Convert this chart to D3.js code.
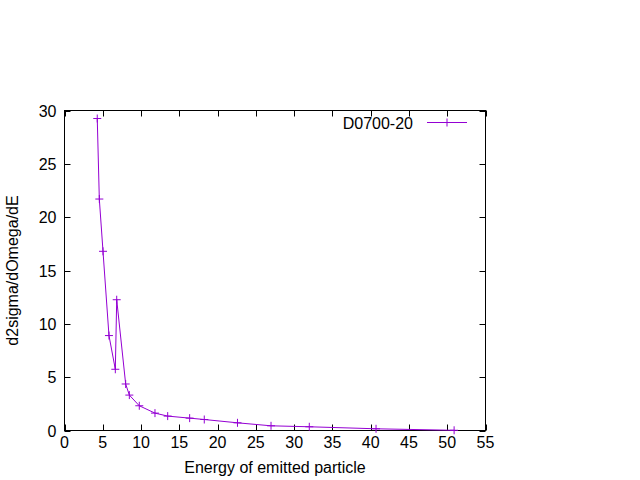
<!DOCTYPE html>
<html><head><meta charset="utf-8">
<script src="https://cdn.jsdelivr.net/npm/d3@7"></script>
<style>body{margin:0;background:#fff}text{font-family:"Liberation Sans",Arial,sans-serif;font-size:16px;fill:#000}</style>
</head><body>
<svg id="c" width="640" height="480"></svg>
<script>
const seriesName = "D0700-20";
const energy = [4.28, 4.55, 5.03, 5.81, 6.64, 6.82, 7.99, 8.47, 9.77, 11.82, 13.48, 16.35, 18.26, 22.6, 26.98, 31.98, 40.7, 50.9];
const sigma  = [29.25, 21.7, 16.8, 8.9, 5.74, 12.26, 4.36, 3.32, 2.32, 1.63, 1.35, 1.16, 1.03, 0.72, 0.44, 0.35, 0.16, 0.02];
const xTicks = [0,5,10,15,20,25,30,35,40,45,50,55];
const yTicks = [0,5,10,15,20,25,30];
const xLabel = "Energy of emitted particle";
const yLabel = "d2sigma/dOmega/dE";

const L=64.5,R=485.5,T=110.5,B=430.5;
const color="#9400d3";
const svg=d3.select("#c");
const x=d3.scaleLinear().domain([0,55]).range([L,R]);
const y=d3.scaleLinear().domain([0,30]).range([B,T]);
const tl=6;

const g=svg.append("g").attr("stroke","#000").attr("stroke-width",1);
xTicks.forEach(t=>{
  const px=Math.round(x(t))+0.5;
  g.append("line").attr("x1",px).attr("x2",px).attr("y1",B).attr("y2",B-tl);
  g.append("line").attr("x1",px).attr("x2",px).attr("y1",T).attr("y2",T+tl);
});
yTicks.forEach(t=>{
  const py=Math.round(y(t))+0.5;
  g.append("line").attr("x1",L).attr("x2",L+tl).attr("y1",py).attr("y2",py);
  g.append("line").attr("x1",R).attr("x2",R-tl).attr("y1",py).attr("y2",py);
});
svg.append("rect").attr("x",L).attr("y",T).attr("width",R-L).attr("height",B-T).attr("fill","none").attr("stroke","#000");

xTicks.forEach(t=>svg.append("text").attr("x",x(t)).attr("y",B+17).attr("text-anchor","middle").text(t));
yTicks.forEach(t=>svg.append("text").attr("x",L-8).attr("y",y(t)+6).attr("text-anchor","end").text(t));

svg.append("text").attr("x",(L+R)/2).attr("y",473).attr("text-anchor","middle").text(xLabel);
svg.append("text").attr("transform",`translate(18,${(T+B)/2}) rotate(-90)`).attr("text-anchor","middle").text(yLabel);

const data=energy.map((e,i)=>[e,sigma[i]]);
svg.append("path").datum(data).attr("fill","none").attr("stroke",color).attr("stroke-width",1)
  .attr("d",d3.line().x(d=>x(d[0])).y(d=>y(d[1])));
const cs=4;
const pts=svg.append("g").attr("stroke",color).attr("stroke-width",1);
data.forEach(d=>{
  const px=x(d[0]),py=y(d[1]);
  pts.append("line").attr("x1",px-cs).attr("x2",px+cs).attr("y1",py).attr("y2",py);
  pts.append("line").attr("x1",px).attr("x2",px).attr("y1",py-cs).attr("y2",py+cs);
});

const ly=122.5;
svg.append("text").attr("x",413).attr("y",ly+6).attr("text-anchor","end").text(seriesName);
svg.append("line").attr("x1",427).attr("x2",467).attr("y1",ly).attr("y2",ly).attr("stroke",color);
svg.append("line").attr("x1",447-cs).attr("x2",447+cs).attr("y1",ly).attr("y2",ly).attr("stroke",color);
svg.append("line").attr("x1",447).attr("x2",447).attr("y1",ly-cs).attr("y2",ly+cs).attr("stroke",color);
</script>
</body></html>
